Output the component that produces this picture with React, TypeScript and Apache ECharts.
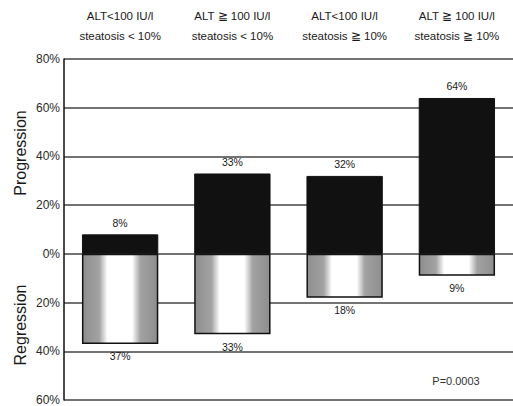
import React, { useEffect, useRef } from "react";
import * as echarts from "echarts";

const categories = [
  "ALT<100 IU/l\nsteatosis < 10%",
  "ALT ≧ 100 IU/l\nsteatosis < 10%",
  "ALT<100 IU/l\nsteatosis ≧ 10%",
  "ALT ≧ 100 IU/l\nsteatosis ≧ 10%",
];
const progression = [8, 33, 32, 64];
const regression = [37, 33, 18, 9];
const yMin = -60;
const yMax = 80;
const yInterval = 20;

export default function App() {
  const ref = useRef<HTMLDivElement>(null);
  useEffect(() => {
    if (!ref.current) return;
    const chart = echarts.init(ref.current, null, { renderer: "svg" });
    const font = "Liberation Sans, Arial, sans-serif";
    const grad = new echarts.graphic.LinearGradient(0, 0, 1, 0, [
      { offset: 0, color: "#8e8e8e" },
      { offset: 0.22, color: "#a2a2a2" },
      { offset: 0.33, color: "#ffffff" },
      { offset: 0.66, color: "#ffffff" },
      { offset: 0.77, color: "#a2a2a2" },
      { offset: 1, color: "#8e8e8e" },
    ]);
    chart.setOption({
      animation: false,
      backgroundColor: "#ffffff",
      grid: { left: 64, right: 0, top: 59, height: 342 },
      xAxis: {
        type: "category",
        data: categories,
        position: "top",
        axisLine: { show: false },
        axisTick: { show: false },
        axisLabel: {
          color: "#1a1a1a",
          fontSize: 11.5,
          fontFamily: font,
          lineHeight: 20,
          margin: 13,
          interval: 0,
        },
      },
      yAxis: {
        type: "value",
        min: yMin,
        max: yMax,
        interval: yInterval,
        axisLine: { show: true, lineStyle: { color: "#111", width: 1.5 } },
        axisTick: { show: false },
        axisLabel: {
          color: "#2a2a2a",
          fontSize: 12,
          fontFamily: font,
          margin: 4,
          formatter: (v: number) => Math.abs(v) + "%",
        },
        splitLine: { show: true, lineStyle: { color: "#444", width: 1.5 } },
      },
      series: [
        {
          type: "bar",
          stack: "a",
          data: progression,
          barWidth: "68%",
          itemStyle: { color: "#111", borderColor: "#111", borderWidth: 1 },
          label: {
            show: true,
            position: "top",
            distance: 6,
            color: "#1a1a1a",
            fontSize: 10.5,
            fontFamily: font,
            formatter: (p: any) => p.value + "%",
          },
        },
        {
          type: "bar",
          stack: "a",
          data: regression.map((v) => -v),
          barWidth: "68%",
          itemStyle: { color: grad, borderColor: "#111", borderWidth: 1.5 },
          label: {
            show: true,
            position: "bottom",
            distance: 7,
            color: "#1a1a1a",
            fontSize: 10.5,
            fontFamily: font,
            formatter: (p: any) => Math.abs(p.value) + "%",
          },
        },
      ],
      graphic: [
        {
          type: "text",
          x: 20,
          y: 153,
          rotation: Math.PI / 2,
          style: {
            text: "Progression",
            fontSize: 16,
            fontFamily: font,
            fill: "#1a1a1a",
            align: "center",
            verticalAlign: "middle",
          },
        },
        {
          type: "text",
          x: 20,
          y: 325,
          rotation: Math.PI / 2,
          style: {
            text: "Regression",
            fontSize: 16,
            fontFamily: font,
            fill: "#1a1a1a",
            align: "center",
            verticalAlign: "middle",
          },
        },
        {
          type: "text",
          x: 456,
          y: 381,
          style: {
            text: "P=0.0003",
            fontSize: 11,
            fontFamily: font,
            fill: "#333",
            align: "center",
            verticalAlign: "middle",
          },
        },
      ],
    });
    return () => chart.dispose();
  }, []);
  return <div ref={ref} style={{ width: 513, height: 406, position: "absolute", left: 0, top: 0 }} />;
}
